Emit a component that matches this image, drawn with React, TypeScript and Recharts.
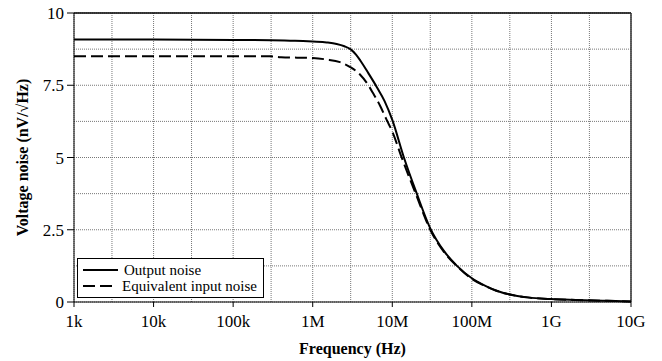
import React from "react";
import { LineChart, Line, XAxis, YAxis, CartesianGrid, ReferenceLine } from "recharts";

const freqTicks = [1e3, 1e4, 1e5, 1e6, 1e7, 1e8, 1e9, 1e10];
const freqLabels = ["1k", "10k", "100k", "1M", "10M", "100M", "1G", "10G"];
const halfDecades = [3e3, 3e4, 3e5, 3e6, 3e7, 3e8, 3e9];
const noiseTicks = [0, 2.5, 5, 7.5, 10];
const minorNoise = [1.25, 3.75, 6.25, 8.75];
const seriesNames = ["Output noise", "Equivalent input noise"];

// Output noise
const outFreq = [1e3, 1e4, 1e5, 3e5, 6e5, 1e6, 1.5e6, 2e6, 2.5e6, 3e6, 3.5e6, 4e6, 5e6, 6.35e6, 8e6, 1e7, 1.4e7, 2e7, 3e7, 4.5e7, 6.5e7, 1e8, 1.5e8, 2e8, 3e8, 5e8, 1e9, 2e9, 5e9, 1e10];
const outNoise = [9.08, 9.08, 9.07, 9.06, 9.04, 9.01, 8.98, 8.93, 8.85, 8.74, 8.56, 8.34, 7.92, 7.45, 6.95, 6.3, 5.0, 3.8, 2.55, 1.75, 1.25, 0.82, 0.55, 0.4, 0.26, 0.16, 0.1, 0.07, 0.04, 0.02];

// Equivalent input noise
const inFreq = [1e3, 1e4, 1e5, 3e5, 4e5, 1e6, 1.5e6, 2.2e6, 3e6, 3.9e6, 5e6, 5.75e6, 7e6, 8.5e6, 1e7, 1.3e7, 2e7, 3e7, 4.5e7, 6.5e7, 1e8, 1.5e8, 2e8, 3e8, 5e8, 1e9, 2e9, 5e9, 1e10];
const inNoise = [8.5, 8.5, 8.5, 8.5, 8.47, 8.44, 8.39, 8.3, 8.12, 7.88, 7.5, 7.22, 6.8, 6.3, 5.9, 5.03, 3.7, 2.5, 1.72, 1.24, 0.8, 0.54, 0.4, 0.26, 0.16, 0.1, 0.07, 0.04, 0.02];

const outputData = outFreq.map((f, i) => ({ f, v: outNoise[i] }));
const inputData = inFreq.map((f, i) => ({ f, v: inNoise[i] }));

const font = "'Liberation Serif', 'Times New Roman', serif";
const gridStroke = "#777";

function LegendBox() {
  const dashes = [undefined, "12 5"];
  return (
    <div
      style={{
        position: "absolute",
        left: 77,
        top: 258,
        width: 174,
        border: "1.5px solid #000",
        background: "#fff",
        padding: "3px 6px 3px 5px",
        fontFamily: font,
        fontSize: 15,
        lineHeight: "16px",
        whiteSpace: "nowrap",
      }}
    >
      {seriesNames.map((name, i) => (
        <div key={name} style={{ display: "flex", alignItems: "center" }}>
          <svg width={36} height={10} style={{ marginRight: 5 }}>
            <line x1={0} y1={5} x2={35} y2={5} stroke="#000" strokeWidth={2} strokeDasharray={dashes[i]} />
          </svg>
          <span>{name}</span>
        </div>
      ))}
    </div>
  );
}

export default function App() {
  return (
    <div style={{ position: "absolute", left: 0, top: 0, width: 662, height: 361, background: "#fff" }}>
      <LineChart width={662} height={361} margin={{ top: 13, right: 31, bottom: 9, left: 0 }}>
        <CartesianGrid stroke={gridStroke} strokeDasharray="1 1" />
        {halfDecades.map((f) => (
          <ReferenceLine key={f} x={f} stroke={gridStroke} strokeDasharray="1 1" />
        ))}
        {minorNoise.map((v) => (
          <ReferenceLine key={v} y={v} stroke={gridStroke} strokeDasharray="1 1" />
        ))}
        <ReferenceLine y={10} stroke="#000" strokeWidth={1.5} />
        <ReferenceLine x={1e10} stroke="#333" strokeWidth={1.5} />
        <XAxis
          dataKey="f"
          type="number"
          scale="log"
          domain={[1e3, 1e10]}
          ticks={freqTicks}
          allowDataOverflow
          tickFormatter={(v: number) => freqLabels[freqTicks.indexOf(v)] ?? ""}
          tickSize={5}
          tickMargin={8}
          height={50}
          stroke="#000"
          tick={{ fill: "#000", fontSize: 17, fontFamily: font }}
          label={{
            value: "Frequency (Hz)",
            position: "insideBottom",
            offset: -2,
            style: { fill: "#000", fontSize: 16, fontWeight: "bold", fontFamily: font },
          }}
        />
        <YAxis
          type="number"
          domain={[0, 10]}
          ticks={noiseTicks}
          tickFormatter={(v: number) => String(v)}
          width={74}
          tickSize={7}
          tickMargin={3}
          stroke="#000"
          tick={{ fill: "#000", fontSize: 17, fontFamily: font }}
          label={{
            value: "Voltage noise (nV/√Hz)",
            angle: -90,
            position: "center",
            dx: -15,
            style: { fill: "#000", fontSize: 16, fontWeight: "bold", fontFamily: font, textAnchor: "middle" },
          }}
        />
        <Line
          data={outputData}
          dataKey="v"
          name={seriesNames[0]}
          type="monotone"
          stroke="#000"
          strokeWidth={2}
          dot={false}
          isAnimationActive={false}
        />
        <Line
          data={inputData}
          dataKey="v"
          name={seriesNames[1]}
          type="monotone"
          stroke="#000"
          strokeWidth={2}
          strokeDasharray="12 5"
          dot={false}
          isAnimationActive={false}
        />
      </LineChart>
      <LegendBox />
    </div>
  );
}
